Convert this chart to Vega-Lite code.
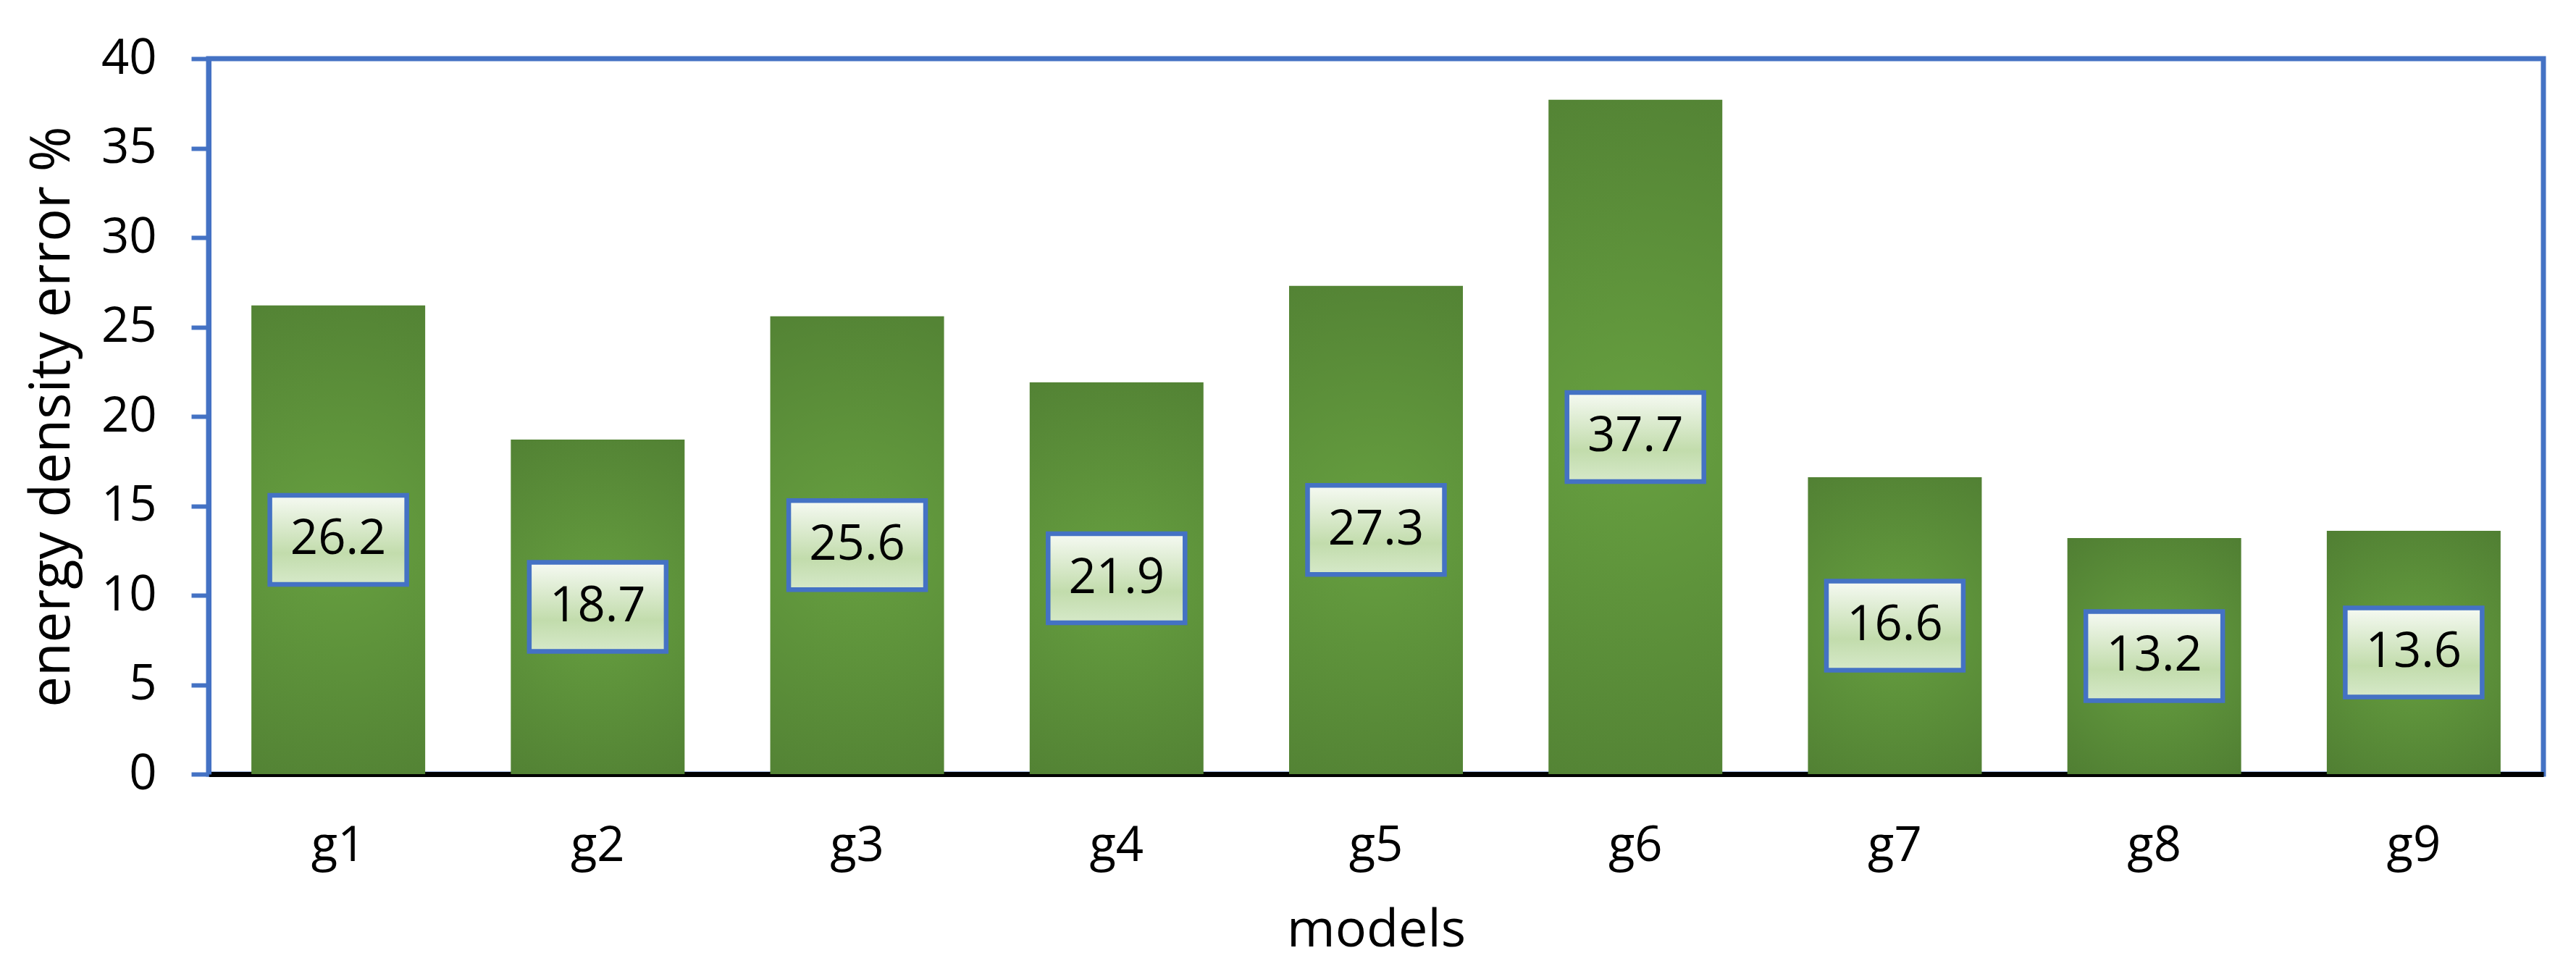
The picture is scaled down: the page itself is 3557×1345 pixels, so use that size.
{
  "$schema": "https://vega.github.io/schema/vega-lite/v6.json",
  "width": 3224,
  "height": 988,
  "autosize": {"type": "none"},
  "padding": {"left": 288, "top": 81, "right": 45, "bottom": 276},
  "background": "white",
  "config": {
    "view": {"stroke": "#4472C4", "strokeWidth": 7},
    "font": "Open Sans",
    "axis": {"grid": false, "labelFont": "Open Sans", "titleFont": "Open Sans", "labelColor": "black", "titleColor": "black", "titleFontWeight": "normal"}
  },
  "data": {
    "values": [
      {"model": "g1", "value": 26.2},
      {"model": "g2", "value": 18.7},
      {"model": "g3", "value": 25.6},
      {"model": "g4", "value": 21.9},
      {"model": "g5", "value": 27.3},
      {"model": "g6", "value": 37.7},
      {"model": "g7", "value": 16.6},
      {"model": "g8", "value": 13.2},
      {"model": "g9", "value": 13.6}
    ]
  },
  "encoding": {
    "x": {
      "field": "model", "type": "nominal", "sort": null,
      "scale": {"paddingInner": 0.33, "paddingOuter": 0.165},
      "axis": {
        "title": "models", "titleFontSize": 72, "titlePadding": 48,
        "labelAngle": 0, "labelFontSize": 67, "labelPadding": 119, "labelBaseline": "alphabetic",
        "ticks": false, "tickSize": 0,
        "domainColor": "black", "domainWidth": 7
      }
    }
  },
  "layer": [
    {
      "mark": {
        "type": "bar",
        "color": {
          "gradient": "radial",
          "x1": 0.5, "y1": 0.5, "r1": 0,
          "x2": 0.5, "y2": 0.5, "r2": 0.7,
          "stops": [
            {"offset": 0, "color": "#67A040"},
            {"offset": 1, "color": "#4D7A31"}
          ]
        }
      },
      "encoding": {
        "y": {
          "field": "value", "type": "quantitative",
          "scale": {"domain": [0, 40]},
          "axis": {
            "title": "energy density error %", "titleFontSize": 76, "titlePadding": 28,
            "values": [0, 5, 10, 15, 20, 25, 30, 35, 40],
            "labelFontSize": 67, "labelPadding": 48,
            "domainColor": "#4472C4", "domainWidth": 7,
            "tickColor": "#4472C4", "tickWidth": 6, "tickSize": 24
          }
        }
      }
    },
    {
      "mark": {
        "type": "point",
        "filled": true,
        "opacity": 1,
        "shape": "M-1,-0.651L1,-0.651L1,0.651L-1,0.651Z",
        "size": 35721,
        "stroke": "#4472C4",
        "strokeWidth": 6.5,
        "strokeOpacity": 1,
        "fill": {
          "gradient": "linear",
          "x1": 0, "y1": 0, "x2": 0, "y2": 1,
          "stops": [
            {"offset": 0, "color": "#F6FAF3"},
            {"offset": 0.65, "color": "#C2DCAC"},
            {"offset": 1, "color": "#D6E9C9"}
          ]
        }
      },
      "encoding": {
        "y": {"field": "value", "type": "quantitative", "scale": {"domain": [0, 80]}, "axis": null}
      }
    },
    {
      "mark": {"type": "text", "fontSize": 67, "font": "Open Sans", "color": "black", "baseline": "middle", "align": "center"},
      "encoding": {
        "y": {"field": "value", "type": "quantitative", "scale": {"domain": [0, 80]}, "axis": null},
        "text": {"field": "value", "type": "quantitative", "format": ".1f"}
      }
    }
  ],
  "resolve": {"scale": {"y": "independent"}}
}
